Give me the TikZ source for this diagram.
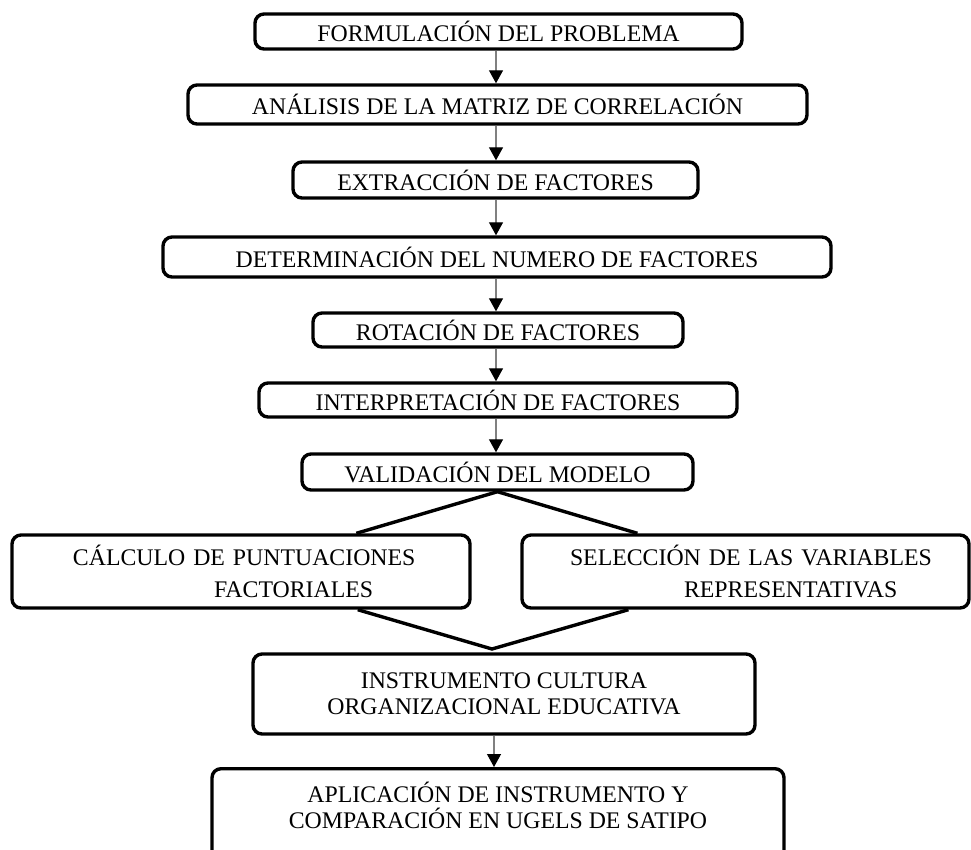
\documentclass[tikz,border=0pt]{standalone}
\usepackage{fontspec}
\setmainfont{Liberation Serif}
\usetikzlibrary{arrows.meta,calc}

\begin{document}
\begin{tikzpicture}[x=1pt, y=-1pt, line width=3.4pt,
  main/.style = {draw, rounded corners=9pt, inner sep=0pt, align=center, font=\fontsize{23.8}{26.5}\selectfont},
  side/.style = {main, align=left, font=\fontsize{23.8}{32}\selectfont, minimum height=73},
  arr/.style = {draw=gray, line width=1.2pt, -{Triangle[width=14pt, length=13pt, color=black]}}]
\clip (0,0) rectangle (971,849);
\coordinate (ax) at (496,0);
\coordinate (ap) at (492,649);
\node[main, minimum width=487, minimum height=35] (1) at (498.5,31.5) {FORMULACIÓN DEL PROBLEMA};
\node[main, minimum width=619, minimum height=39] (2) at (497.5,104.5) {ANÁLISIS DE LA MATRIZ DE CORRELACIÓN};
\node[main, minimum width=405, minimum height=36] (3) at (495.5,180) {EXTRACCIÓN DE FACTORES};
\node[main, minimum width=668, minimum height=40] (4) at (497,257) {DETERMINACIÓN DEL NUMERO DE FACTORES};
\node[main, minimum width=370, minimum height=34] (5) at (498,330) {ROTACIÓN DE FACTORES};
\node[main, minimum width=478, minimum height=34] (6) at (498,400) {INTERPRETACIÓN DE FACTORES};
\node[main, minimum width=391, minimum height=36] (7) at (497.5,472) {VALIDACIÓN DEL MODELO};
\node[side, text width=458] (8) at (241,571.5) {\hspace*{61pt}CÁLCULO DE PUNTUACIONES\\\hspace*{202pt}FACTORIALES};
\node[side, text width=447] (9) at (745.5,571.5) {\hspace*{48pt}SELECCIÓN DE LAS VARIABLES\\\hspace*{162pt}REPRESENTATIVAS};
\node[main, minimum width=502, minimum height=80] (10) at (504,694) {INSTRUMENTO CULTURA\\ORGANIZACIONAL EDUCATIVA};
\node[main, minimum width=572, anchor=north, inner ysep=13, text depth=80pt] (11) at (498,767) {APLICACIÓN DE INSTRUMENTO Y\\COMPARACIÓN EN UGELS DE SATIPO};
% flechas
\foreach \a/\b in {1/2, 2/3, 3/4, 4/5, 5/6, 6/7}
  \draw[arr] (\a.south -| ax) -- (\b.north -| ax);
\draw[arr] ($(10.south -| ax)+(-2,0)$) -- ($(11.north -| ax)+(-2,0)$);
% ramas
\draw ($(8.north west)!0.75!(8.north east)$) -- (7.south) -- ($(9.north west)!0.26!(9.north east)$);
\draw ($(8.south west)!0.753!(8.south east)$) -- (ap) -- ($(9.south west)!0.24!(9.south east)$);
\end{tikzpicture}
\end{document}
